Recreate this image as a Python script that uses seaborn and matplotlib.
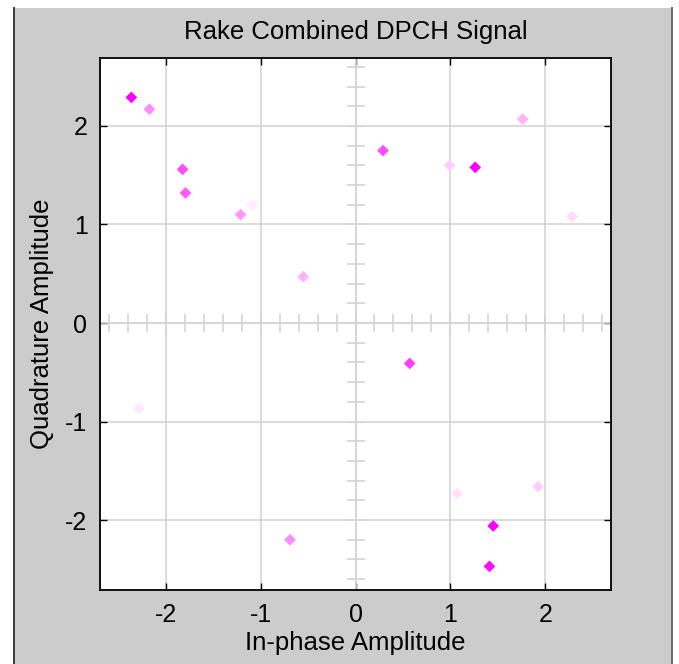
import numpy as np
import pandas as pd
import seaborn as sns
import matplotlib.pyplot as plt
from matplotlib.colors import LinearSegmentedColormap
from matplotlib.patches import Rectangle
from matplotlib.lines import Line2D

# symbols (in-phase, quadrature, fade level)
in_phase = [-2.36, -2.17, -1.82, -1.79, -1.21, -1.09, -0.55, 0.29, 0.99, 1.26,
            1.76, 2.28, 0.57, -2.28, -0.69, 1.07, 1.92, 1.45, 1.41]
quadrature = [2.29, 2.17, 1.56, 1.32, 1.10, 1.20, 0.47, 1.75, 1.60, 1.58,
              2.07, 1.08, -0.41, -0.87, -2.20, -1.73, -1.66, -2.06, -2.47]
intensity = [1.0, 0.45, 0.7, 0.65, 0.4, 0.08, 0.3, 0.7, 0.2, 1.0,
             0.3, 0.15, 0.75, 0.1, 0.45, 0.12, 0.2, 1.0, 0.95]
ticks = [-2, -1, 0, 1, 2]

df = pd.DataFrame({"I": in_phase, "Q": quadrature, "level": intensity})

plt.rcParams['font.family'] = ['Liberation Sans', 'DejaVu Sans']
plt.rcParams['axes.unicode_minus'] = False

fig = plt.figure(figsize=(6.79, 6.64), dpi=100, facecolor='white')
# gray window panel
fig.patches.append(Rectangle((13 / 679, 0), 659 / 679, 656 / 664, transform=fig.transFigure,
                             facecolor='#cccccc', edgecolor='none', zorder=-2))
fig.lines.append(Line2D([13.5 / 679, 13.5 / 679], [0, 656 / 664], transform=fig.transFigure,
                        color='#3c3c3c', lw=1.4, zorder=-1))
fig.lines.append(Line2D([671.5 / 679, 671.5 / 679], [0, 656 / 664], transform=fig.transFigure,
                        color='#6a6a6a', lw=1.4, zorder=-1))

ax = fig.add_axes([100 / 679, 74 / 664, 511 / 679, 532 / 664])
ax.set_facecolor('white')

lim = 2.69
ax.set_xlim(-lim, lim)
ax.set_ylim(-2.71, lim)
ax.set_xticks(ticks)
ax.set_yticks(ticks)
ax.grid(True, color='#d4d4d4', lw=1.2)
ax.set_axisbelow(True)

# crosshair with small tick marks
gray = '#d4d4d4'
ax.axhline(0, color=gray, lw=1.2, zorder=1)
ax.axvline(0, color=gray, lw=1.2, zorder=1)
minor = np.round(np.arange(-2.6, 2.61, 0.2), 2)
ax.plot(minor, np.zeros_like(minor), ls='none', marker='|', ms=13, mew=1.2, color=gray, zorder=1)
ax.plot(np.zeros_like(minor), minor, ls='none', marker='_', ms=13, mew=1.2, color=gray, zorder=1)

fade = LinearSegmentedColormap.from_list('fade', ['#ffffff', '#ff00ff'])
sns.scatterplot(data=df, x="I", y="Q", hue="level", palette=fade, hue_norm=(0, 1),
                marker='D', s=36, linewidth=0, legend=False, ax=ax, zorder=3)

for sp in ax.spines.values():
    sp.set_color('black')
    sp.set_linewidth(1.3)
ax.tick_params(direction='in', length=5, width=1, top=True, right=True,
               labelsize=18, colors='black', pad=9)
ax.set_title("Rake Combined DPCH Signal", fontsize=18.5, pad=14)
ax.set_xlabel("In-phase Amplitude", fontsize=18.5, labelpad=3)
ax.set_ylabel("Quadrature Amplitude", fontsize=18.5, labelpad=8)

fig.savefig("out.png", dpi=100)
